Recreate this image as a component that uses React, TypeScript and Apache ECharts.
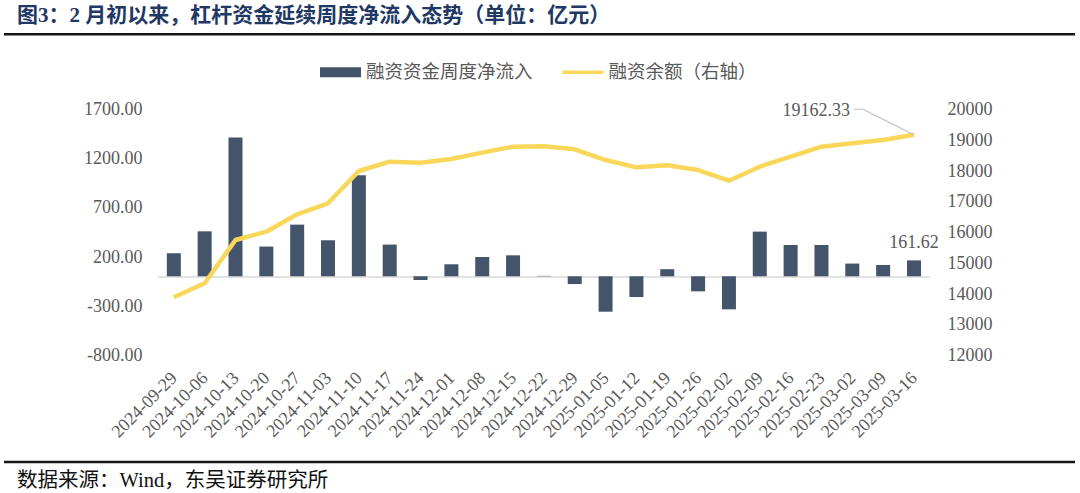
import React, { useEffect, useRef } from "react";
import * as echarts from "echarts";

const categories = [
  "2024-09-29", "2024-10-06", "2024-10-13", "2024-10-20", "2024-10-27",
  "2024-11-03", "2024-11-10", "2024-11-17", "2024-11-24", "2024-12-01",
  "2024-12-08", "2024-12-15", "2024-12-22", "2024-12-29", "2025-01-05",
  "2025-01-12", "2025-01-19", "2025-01-26", "2025-02-02", "2025-02-09",
  "2025-02-16", "2025-02-23", "2025-03-02", "2025-03-09", "2025-03-16",
];

const netInflow = [
  234, 457, 1410, 302, 525, 366, 1026, 322, -38, 122,
  196, 213, 4, -79, -360, -211, 72, -153, -336, 454,
  318, 318, 129, 115, 161.62,
];

const marginBalance = [
  13876, 14332, 15740, 16010, 16575, 16933, 17984, 18287, 18254, 18374,
  18580, 18775, 18790, 18688, 18341, 18103, 18168, 18016, 17669, 18124,
  18450, 18775, 18884, 18992, 19162.33,
];

const seriesNames = ["融资资金周度净流入", "融资余额（右轴）"];
const titleText = "图3：2 月初以来，杠杆资金延续周度净流入态势（单位：亿元）";
const sourceText = "数据来源：Wind，东吴证券研究所";

const leftAxis = { min: -800, max: 1700, interval: 500 };
const rightAxis = { min: 12000, max: 20000, interval: 1000 };

const FONT = "'Liberation Serif', 'Noto Sans CJK SC', serif";
const GRAY = "#595959";
const BAR_COLOR = "#44546A";
const LINE_COLOR = "#F8D75A";

export default function App() {
  const ref = useRef<HTMLDivElement>(null);

  useEffect(() => {
    if (!ref.current) return;
    const chart = echarts.init(ref.current, undefined, { renderer: "svg" });

    const baseGraphics: any[] = [
      {
        type: "text",
        id: "title",
        x: 17,
        y: 15,
        style: {
          text: titleText,
          fill: "#1F3864",
          font: `bold 21px ${FONT}`,
          verticalAlign: "middle",
        },
      },
      {
        type: "line",
        id: "topRule",
        shape: { x1: 4, y1: 34.3, x2: 1075, y2: 34.3 },
        style: { stroke: "#151515", lineWidth: 2.6 },
      },
      {
        type: "line",
        id: "bottomRule",
        shape: { x1: 4, y1: 462, x2: 1075, y2: 462 },
        style: { stroke: "#151515", lineWidth: 2.6 },
      },
      {
        type: "text",
        id: "source",
        x: 17,
        y: 480,
        style: {
          text: sourceText,
          fill: "#111",
          font: `20.5px ${FONT}`,
          verticalAlign: "middle",
        },
      },
    ];

    const option: any = {
      animation: false,
      backgroundColor: "#ffffff",
      legend: {
        left: 315,
        top: 58,
        itemWidth: 41,
        itemHeight: 10,
        itemGap: 30,
        textStyle: { color: GRAY, fontSize: 18.5, fontFamily: FONT },
        data: [
          { name: seriesNames[0], icon: "rect" },
          {
            name: seriesNames[1],
            icon: "path://M0 0H45V4H0Z",
            itemStyle: { color: LINE_COLOR },
          },
        ],
      },
      grid: { left: 158.4, right: 150.6, top: 109, bottom: 138, containLabel: false },
      xAxis: [
        {
          type: "category",
          data: categories,
          position: "bottom",
          axisLine: { show: false },
          axisTick: { show: false },
          axisLabel: {
            rotate: 45,
            interval: 0,
            margin: 20,
            color: GRAY,
            fontSize: 18,
            fontFamily: FONT,
          },
        },
        {
          type: "category",
          data: categories,
          position: "bottom",
          axisLine: {
            show: true,
            onZero: true,
            onZeroAxisIndex: 0,
            lineStyle: { color: "#D9D9D9", width: 1.6 },
          },
          axisTick: { show: false },
          axisLabel: { show: false },
        },
      ],
      yAxis: [
        {
          type: "value",
          min: leftAxis.min,
          max: leftAxis.max,
          interval: leftAxis.interval,
          axisLine: { show: false },
          axisTick: { show: false },
          splitLine: { show: false },
          axisLabel: {
            margin: 16,
            color: GRAY,
            fontSize: 18,
            fontFamily: FONT,
            formatter: (v: number) => v.toFixed(2),
          },
        },
        {
          type: "value",
          min: rightAxis.min,
          max: rightAxis.max,
          interval: rightAxis.interval,
          position: "right",
          axisLine: { show: false },
          axisTick: { show: false },
          splitLine: { show: false },
          axisLabel: {
            margin: 18,
            color: GRAY,
            fontSize: 18,
            fontFamily: FONT,
            formatter: (v: number) => String(v),
          },
        },
      ],
      series: [
        {
          name: seriesNames[0],
          type: "bar",
          xAxisIndex: 0,
          yAxisIndex: 0,
          barWidth: 14,
          itemStyle: { color: BAR_COLOR },
          data: netInflow.map((v, i) =>
            i === netInflow.length - 1
              ? {
                  value: v,
                  label: {
                    show: true,
                    position: "top",
                    distance: 9,
                    color: GRAY,
                    fontSize: 18,
                    fontFamily: FONT,
                    formatter: () => v.toFixed(2),
                  },
                }
              : v
          ),
        },
        {
          name: seriesNames[1],
          type: "line",
          xAxisIndex: 0,
          yAxisIndex: 1,
          showSymbol: false,
          symbol: "none",
          lineStyle: { color: LINE_COLOR, width: 4.5 },
          itemStyle: { color: LINE_COLOR },
          z: 5,
          data: marginBalance,
        },
      ],
      graphic: baseGraphics,
    };

    chart.setOption(option);

    const lastIdx = marginBalance.length - 1;
    const lastVal = marginBalance[lastIdx];
    const p = chart.convertToPixel({ xAxisIndex: 0, yAxisIndex: 1 }, [lastIdx, lastVal]) as number[];
    if (p && isFinite(p[0])) {
      const elbowX = p[0] - 51;
      const elbowY = p[1] - 25.5;
      chart.setOption({
        graphic: [
          ...baseGraphics,
          {
            type: "polyline",
            id: "leader",
            shape: {
              points: [
                [p[0], p[1]],
                [elbowX, elbowY],
                [elbowX - 9, elbowY],
              ],
            },
            style: { stroke: "#BFBFBF", lineWidth: 1.2, fill: "none" },
            z: 10,
          },
          {
            type: "text",
            id: "leaderText",
            x: elbowX - 13,
            y: elbowY + 1,
            style: {
              text: lastVal.toFixed(2),
              fill: GRAY,
              font: `18px ${FONT}`,
              align: "right",
              verticalAlign: "middle",
            },
            z: 10,
          },
        ],
      });
    }

    return () => chart.dispose();
  }, []);

  return (
    <div
      ref={ref}
      style={{ position: "absolute", left: 0, top: 0, width: 1080, height: 493 }}
    />
  );
}
